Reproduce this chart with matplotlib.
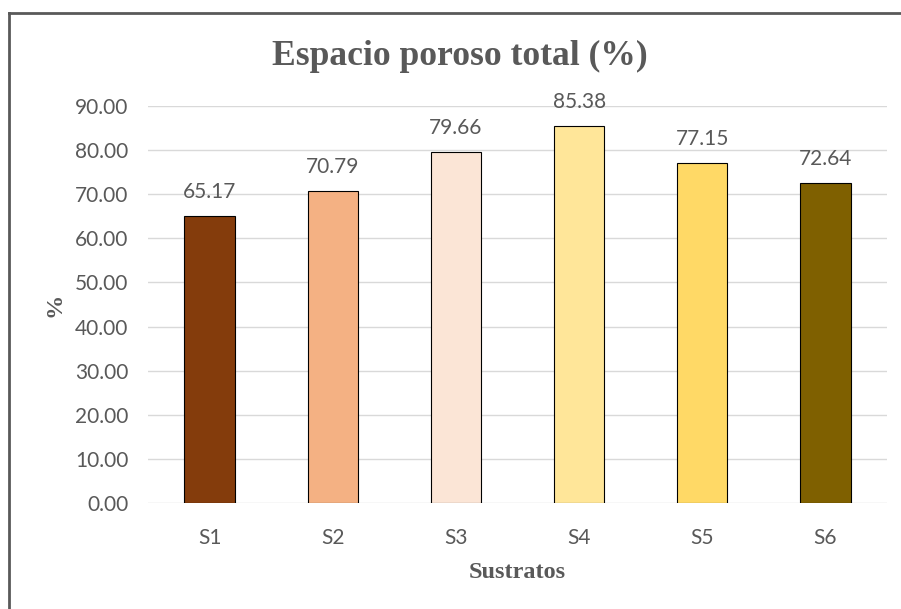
import matplotlib
matplotlib.use("Agg")
import matplotlib.pyplot as plt
from matplotlib.lines import Line2D

categories = ["S1", "S2", "S3", "S4", "S5", "S6"]
values = [65.17, 70.79, 79.66, 85.38, 77.15, 72.64]
bar_colors = ["#843C0C", "#F4B183", "#FBE5D6", "#FFE699", "#FFD966", "#7F6000"]
yticks = [0, 10, 20, 30, 40, 50, 60, 70, 80, 90]

text_gray = "#595959"
sans = ["Lato", "DejaVu Sans"]
serif = ["Liberation Serif", "DejaVu Serif"]

fig = plt.figure(figsize=(9.01, 6.09), dpi=100)
ax = fig.add_axes([148 / 901, 1 - 503 / 609, (887 - 148) / 901, (503 - 106) / 609])

x = range(len(categories))
bars = ax.bar(x, values, width=0.41, color=bar_colors, edgecolor="black",
              linewidth=0.8, zorder=3)

for xi, v in zip(x, values):
    ax.annotate(f"{v:.2f}", (xi, v), xytext=(0, 10), textcoords="offset points",
                ha="center", va="bottom", fontsize=15, color=text_gray,
                family=sans)

ax.set_xlim(-0.5, len(categories) - 0.5)
ax.set_ylim(0, 90)
ax.set_yticks(yticks)
ax.set_yticklabels([f"{t:.2f}" for t in yticks], family=sans, fontsize=15,
                   color=text_gray)
ax.set_xticks(list(x))
ax.set_xticklabels(categories, family=sans, fontsize=15, color=text_gray)
ax.tick_params(length=0)
ax.tick_params(axis="y", pad=14)
ax.tick_params(axis="x", pad=18)
ax.grid(axis="y", color="#D9D9D9", linewidth=1.0, zorder=0)
for s in ax.spines.values():
    s.set_visible(False)

ax.set_xlabel("Sustratos", family=serif, fontsize=17.5, fontweight="bold",
              color=text_gray, labelpad=10)
ax.set_ylabel("%", family=serif, fontsize=17.5, fontweight="bold",
              color=text_gray, labelpad=7)

fig.text(460 / 901, 1 - 56 / 609, "Espacio poroso total (%)", family=serif,
         fontsize=25.6, fontweight="bold", color=text_gray, ha="center",
         va="center")

# chart frame (left and top edges)
frame_kw = dict(color="#595959", linewidth=2, transform=fig.transFigure)
fig.add_artist(Line2D([8.5 / 901, 8.5 / 901], [0, 1 - 13 / 609], **frame_kw))
fig.add_artist(Line2D([8.5 / 901, 1], [1 - 13 / 609, 1 - 13 / 609], **frame_kw))

fig.savefig("out.png", dpi=100, facecolor="white")
